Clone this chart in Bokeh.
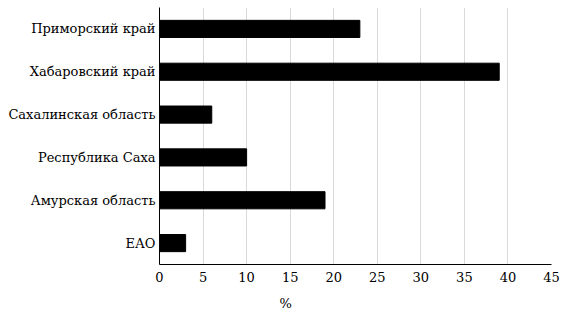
from bokeh.plotting import figure
from bokeh.models import FactorRange, Range1d, FixedTicker, Title
from bokeh.embed import file_html
from bokeh.resources import INLINE

categories = ["Приморский край", "Хабаровский край", "Сахалинская область",
              "Республика Саха", "Амурская область", "ЕАО"]
values = [23, 39, 6, 10, 19, 3]
x_ticks = [0, 5, 10, 15, 20, 25, 30, 35, 40, 45]
x_label = "%"

FONT = "DejaVu Serif"

factors = list(reversed(categories))
p = figure(width=570, height=334, output_backend="svg", toolbar_location=None,
           y_range=FactorRange(factors=factors), x_range=Range1d(0, 45),
           min_border_left=159, min_border_right=19, min_border_top=7,
           min_border_bottom=70)
p.hbar(y=categories, right=values, height=0.4, left=0, color="black")

p.outline_line_color = None
p.ygrid.grid_line_color = None
p.xgrid.grid_line_color = "#d9d9d9"
p.xgrid.ticker = FixedTicker(ticks=x_ticks)

p.xaxis.ticker = FixedTicker(ticks=x_ticks)
for ax in (p.xaxis[0], p.yaxis[0]):
    ax.axis_line_color = "black"
    ax.axis_line_width = 1
    ax.major_tick_line_color = None
    ax.minor_tick_line_color = None
    ax.major_tick_out = 0
    ax.major_tick_in = 0
    ax.major_label_text_font = FONT
    ax.major_label_text_font_size = "13px"
    ax.major_label_text_color = "black"
p.yaxis.major_label_standoff = 4
p.xaxis.major_label_standoff = 7

t = Title(text=x_label, align="left", offset=120, text_font=FONT,
          text_font_size="13px", text_font_style="normal", text_color="black",
          standoff=18)
p.add_layout(t, "below")

open("out.html", "w").write(file_html(p, INLINE))
